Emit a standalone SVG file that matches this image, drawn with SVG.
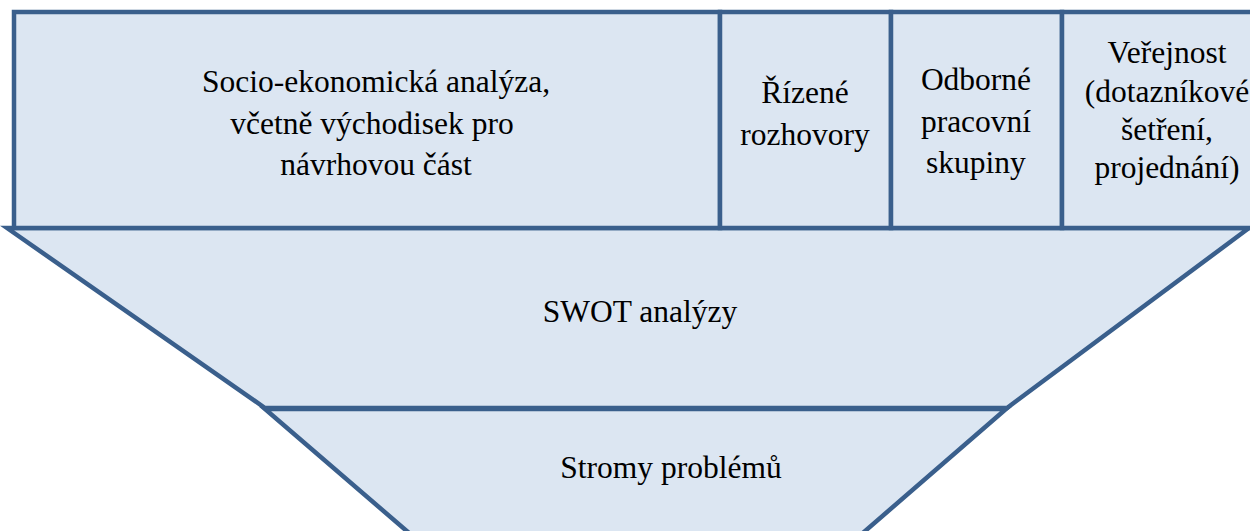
<svg xmlns="http://www.w3.org/2000/svg" width="1250" height="531" viewBox="0 0 1250 531">
<style>
.box{fill:#dce6f2;stroke:#3a5f8c;stroke-width:4.5;stroke-linejoin:miter}
.t{font-family:'Liberation Serif','Times New Roman',Tinos,'DejaVu Serif',serif;font-size:31.5px;fill:#000000;text-anchor:middle}
</style>
<rect width="1250" height="531" fill="#ffffff"/>
<g id="strom">
<polygon class="box" points="265,409 1006,409 849,545 423,545"/>
<text class="t" font-family="Liberation Serif, serif" x="671" y="478">Stromy problémů</text>
</g>
<g id="swot">
<polygon class="box" points="7,228 1249,228 1007,408 265,408"/>
<text class="t" font-family="Liberation Serif, serif" x="640" y="322">SWOT analýzy</text>
</g>
<g id="socio">
<rect class="box" x="14" y="12" width="706" height="216"/>
<text class="t" font-family="Liberation Serif, serif" x="376" y="92">Socio-ekonomická analýza,</text>
<text class="t" font-family="Liberation Serif, serif" x="372" y="134">včetně východisek pro</text>
<text class="t" font-family="Liberation Serif, serif" x="376" y="175">návrhovou část</text>
</g>
<g id="rizene">
<rect class="box" x="720" y="12" width="171" height="216"/>
<text class="t" font-family="Liberation Serif, serif" x="805" y="103">Řízené</text>
<text class="t" font-family="Liberation Serif, serif" x="805" y="145">rozhovory</text>
</g>
<g id="odborne">
<rect class="box" x="891" y="12" width="171" height="216"/>
<text class="t" font-family="Liberation Serif, serif" x="976" y="90">Odborné</text>
<text class="t" font-family="Liberation Serif, serif" x="976" y="132">pracovní</text>
<text class="t" font-family="Liberation Serif, serif" x="976" y="173">skupiny</text>
</g>
<g id="verejnost">
<rect class="box" x="1062" y="12" width="220" height="216"/>
<text class="t" font-family="Liberation Serif, serif" x="1167" y="63">Veřejnost</text>
<text class="t" font-family="Liberation Serif, serif" x="1167" y="102">(dotazníkové</text>
<text class="t" font-family="Liberation Serif, serif" x="1167" y="140">šetření,</text>
<text class="t" font-family="Liberation Serif, serif" x="1167" y="178">projednání)</text>
</g>
<g id="connectors"></g>
</svg>
